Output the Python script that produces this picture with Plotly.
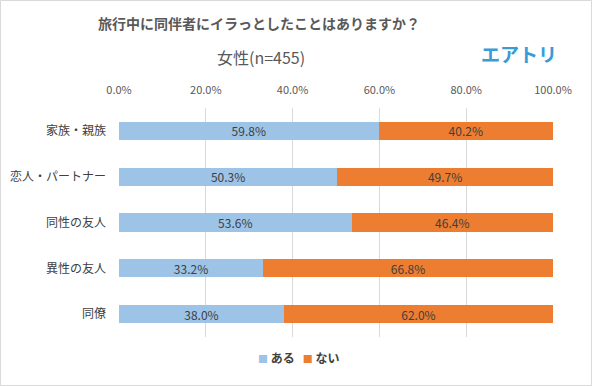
import plotly.graph_objects as go

categories = ["家族・親族", "恋人・パートナー", "同性の友人", "異性の友人", "同僚"]
aru = [59.8, 50.3, 53.6, 33.2, 38.0]
nai = [40.2, 49.7, 46.4, 66.8, 62.0]
series_names = ["ある", "ない"]
series_colors = ["#9dc3e6", "#ed7d31"]
tick_vals = [0, 20, 40, 60, 80, 100]
tick_text = ["0.0%", "20.0%", "40.0%", "60.0%", "80.0%", "100.0%"]

FONT = "Noto Sans CJK JP"
W, H = 592, 386
ML, MR, MT, MB = 119, 39, 108, 49

fig = go.Figure()
for name, vals, col in zip(series_names, [aru, nai], series_colors):
    fig.add_trace(go.Bar(
        y=categories, x=vals, orientation="h", name=name,
        marker=dict(color=col, line=dict(width=0)),
        text=[f"{v:.1f}%" for v in vals], textposition="inside", insidetextanchor="middle",
        textfont=dict(family=FONT, size=12, color="#404040"),
    ))

pw, ph = W - ML - MR, H - MT - MB
fig.update_layout(
    width=W, height=H,
    margin=dict(l=ML, r=MR, t=MT, b=MB, autoexpand=False),
    barmode="stack", bargap=0.6,
    uniformtext=dict(minsize=12, mode="show"),
    plot_bgcolor="white", paper_bgcolor="white",
    font=dict(family=FONT, color="#595959"),
    xaxis=dict(range=[0, 100], side="top", tickvals=tick_vals, ticktext=tick_text,
               showgrid=True, gridcolor="#d9d9d9", gridwidth=1, zeroline=False,
               tickfont=dict(size=11, color="#595959"), ticks="", fixedrange=True,
               automargin=False, ticklabelstandoff=11),
    yaxis=dict(autorange="reversed", tickfont=dict(size=12, color="#404040"),
               ticks="", ticklen=0, showline=False, fixedrange=True,
               automargin=False, ticklabelstandoff=12),
    showlegend=False,
)

def px_x(x):
    return (x - ML) / pw

def px_y(y):
    return (MT + ph - y) / ph

# title & subtitle & logo
fig.add_annotation(text="<b>旅行中に同伴者にイラっとしたことはありますか？</b>",
                   xref="paper", yref="paper", x=px_x(259), y=px_y(23),
                   showarrow=False, font=dict(size=14, color="#595959"), xanchor="center", yanchor="middle")
fig.add_annotation(text="女性(n=455)", xref="paper", yref="paper",
                   x=px_x(261), y=px_y(57),
                   showarrow=False, font=dict(size=16, color="#595959"), xanchor="center", yanchor="middle")
fig.add_annotation(text="<b>エアトリ</b>", xref="paper", yref="paper",
                   x=px_x(519), y=px_y(53),
                   showarrow=False, font=dict(size=19, color="#3a9bd5"), xanchor="center", yanchor="middle")

# legend (compact, Excel-like)
legend_text = "&nbsp;&nbsp;&nbsp;".join(
    f'<span style="color:{c};font-size:10px">■</span>&nbsp;<b>{n}</b>' for n, c in zip(series_names, series_colors))
fig.add_annotation(text=legend_text, xref="paper", yref="paper", x=px_x(299), y=px_y(357),
                   showarrow=False, font=dict(size=12, color="#404040"), xanchor="center", yanchor="middle")

# outer border
fig.add_shape(type="rect", xref="paper", yref="paper",
              x0=(-ML + 0.5) / pw, x1=(pw + MR - 0.5) / pw,
              y0=(-MB + 0.5) / ph, y1=(ph + MT - 0.5) / ph,
              line=dict(color="#d9d9d9", width=1), layer="below")

fig.write_html("out.html", config={"displayModeBar": False},
               post_script="document.body.style.margin='0';")
